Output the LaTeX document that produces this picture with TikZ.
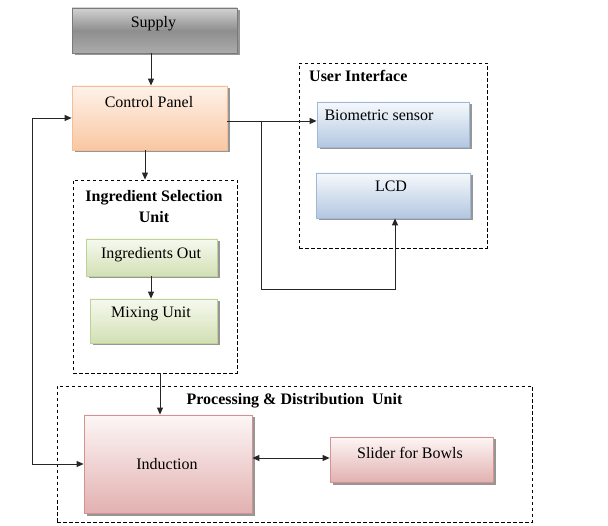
\documentclass[tikz,border=0pt]{standalone}
\usepackage{fontspec}
\setmainfont{Liberation Serif}
\usetikzlibrary{shadows,arrows.meta}
\definecolor{grayT}{HTML}{D2D2D2}
\definecolor{grayM}{HTML}{8E8E8E}
\definecolor{grayB}{HTML}{ABABAB}
\definecolor{grayD}{HTML}{7A7A7A}
\definecolor{orT}{HTML}{FEF2EA}
\definecolor{orB}{HTML}{F9C7A2}
\definecolor{orD}{HTML}{F5BE96}
\definecolor{blT}{HTML}{F6F9FC}
\definecolor{blB}{HTML}{B3C7E1}
\definecolor{blD}{HTML}{9FB8D8}
\definecolor{grT}{HTML}{F6F9EF}
\definecolor{grB}{HTML}{D2E0B4}
\definecolor{grD}{HTML}{BFD296}
\definecolor{pkT}{HTML}{FDF6F6}
\definecolor{pkB}{HTML}{E2B1B0}
\definecolor{pkD}{HTML}{D39392}
\begin{document}
\begin{tikzpicture}[x=1pt,y=-1pt,
  box/.style={rectangle, draw, line width=0.8pt, inner sep=0pt,
    drop shadow={shadow xshift=2.5pt, shadow yshift=-2.5pt, fill=black!55, opacity=0.75}},
  graybox/.style={box, draw=grayD, top color=grayT, bottom color=grayB, middle color=grayM},
  orbox/.style={box, draw=orD, top color=orT, bottom color=orB},
  blbox/.style={box, draw=blD, top color=blT, bottom color=blB},
  grbox/.style={box, draw=grD, top color=grT, bottom color=grB},
  pkbox/.style={box, draw=pkD, top color=pkT, bottom color=pkB},
  group/.style={rectangle, draw=black, line width=0.8pt, dash pattern=on 3.5pt off 2.5pt, inner sep=0pt},
  lbl/.style={inner sep=0pt, font=\fontsize{16}{19}\selectfont},
  ttl/.style={inner sep=0pt, font=\fontsize{16}{21}\selectfont\bfseries, align=center},
  arr/.style={draw=black!85, line width=0.9pt, -{Triangle[length=7pt,width=6pt]}},
  arrs/.style={draw=black!85, line width=0.9pt, {Triangle[length=7pt,width=6pt]}-{Triangle[length=7pt,width=6pt]}}
]
\useasboundingbox[fill=white] (0,0) rectangle (608,526);

% groups
\node[group, minimum width=188pt, minimum height=185pt] (ui) at (393,155.5) {};
\node[group, minimum width=164pt, minimum height=193pt] (isu) at (155,276.5) {};
\node[group, minimum width=475pt, minimum height=136pt] (pdu) at (294.5,454) {};

% boxes
\node[graybox, minimum width=165pt, minimum height=45pt] (sup) at (154.5,30.5) {};
\node[orbox, minimum width=155pt, minimum height=64pt] (cp) at (149.5,118) {};
\node[blbox, minimum width=152pt, minimum height=45pt] (bio) at (393,124.5) {};
\node[blbox, minimum width=154pt, minimum height=45pt] (lcd) at (393,195.5) {};
\node[grbox, minimum width=131pt, minimum height=37pt] (ing) at (151.5,257.5) {};
\node[grbox, minimum width=127pt, minimum height=44pt] (mix) at (153.5,321) {};
\node[pkbox, minimum width=168pt, minimum height=98pt] (ind) at (168,464) {};
\node[pkbox, minimum width=163pt, minimum height=45pt] (sld) at (411.5,459.5) {};

% texts
\node[lbl, anchor=base] (tsup) at (153.5,28) {Supply};
\node[lbl, anchor=base] (tcp) at (149,108) {Control Panel};
\node[lbl, anchor=base] (tbio) at (379,121) {Biometric sensor};
\node[lbl, anchor=base] (tlcd) at (391,192) {LCD};
\node[lbl, anchor=base] (ting) at (151,259) {Ingredients Out};
\node[lbl, anchor=base] (tmix) at (151,318) {Mixing Unit};
\node[lbl, anchor=base] (tind) at (167,470) {Induction};
\node[lbl, anchor=base] (tsld) at (410,459) {Slider for Bowls};
\node[ttl, anchor=base west] (tui) at (309,82) {User Interface};
\node[ttl, anchor=north] (tisu) at (154,190) {Ingredient Selection\\Unit};
\node[ttl, anchor=base] (tpdu) at (294.5,405) {Processing \& Distribution\ \ Unit};

% connectors
\draw[arr] (sup.south -| 151,0) -- (cp.north -| 151,0);
\draw[arr] (cp.south -| 145,0) -- (isu.north -| 145,0);
\draw[arr] (ing.south -| 151,0) -- (mix.north -| 151,0);
\draw[arr] (isu.south -| 160,0) -- (ind.north -| 160,0);
\draw[arr] (cp.east |- 0,121) -- (bio.west |- 0,121);
\coordinate (br) at (261,121);
\coordinate (lb) at (395,289);
\draw[arr] (br) |- (lb) -- (lcd.south -| lb);
\draw[arrs] (ind.east |- 0,458) -- (sld.west |- 0,458);
\coordinate (lp) at (32,118);
\draw[arrs] (cp.west |- lp) -- (lp) -- (lp |- 0,464) -- (ind.west |- 0,464);
\end{tikzpicture}
\end{document}
